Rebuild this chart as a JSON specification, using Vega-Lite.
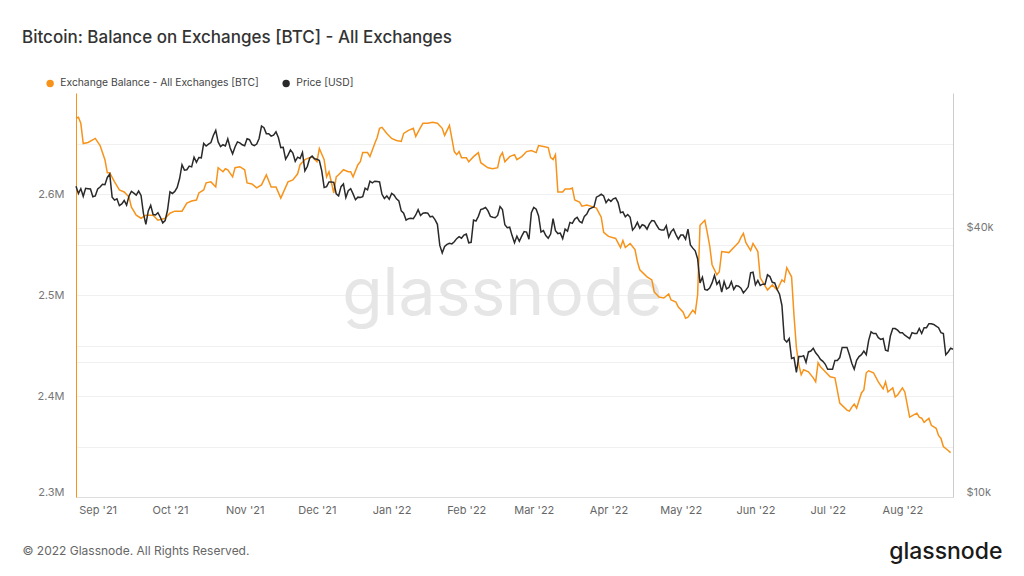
{
  "$schema": "https://vega.github.io/schema/vega-lite/v6.json",
  "width": 877,
  "height": 404,
  "autosize": "none",
  "padding": {"left": 76, "top": 93, "right": 71, "bottom": 79},
  "background": "white",
  "config": {"font": "Inter", "view": {"stroke": null}},
  "title": {"text": "Bitcoin: Balance on Exchanges [BTC] - All Exchanges", "anchor": "start", "frame": "group", "dx": -54, "offset": 31, "font": "Inter", "fontSize": 17, "fontWeight": 500, "color": "#333333"},
  "datasets": {
    "balance": [
      {"d":"2021-08-23","b":2675000},{"d":"2021-08-24","b":2676000},{"d":"2021-08-25","b":2670000},{"d":"2021-08-26","b":2650000},{"d":"2021-08-28","b":2651000},{"d":"2021-08-31","b":2655000},{"d":"2021-09-02","b":2648000},{"d":"2021-09-04","b":2634000},{"d":"2021-09-05","b":2621000},{"d":"2021-09-06","b":2621000},{"d":"2021-09-08","b":2612000},{"d":"2021-09-10","b":2604000},{"d":"2021-09-12","b":2602000},{"d":"2021-09-14","b":2597000},{"d":"2021-09-15","b":2587000},{"d":"2021-09-17","b":2579000},{"d":"2021-09-19","b":2576000},{"d":"2021-09-21","b":2579000},{"d":"2021-09-24","b":2579000},{"d":"2021-09-26","b":2574000},{"d":"2021-09-29","b":2576000},
      {"d":"2021-10-01","b":2581000},{"d":"2021-10-03","b":2583000},{"d":"2021-10-06","b":2583000},{"d":"2021-10-08","b":2591000},{"d":"2021-10-10","b":2593000},{"d":"2021-10-12","b":2594000},{"d":"2021-10-13","b":2601000},{"d":"2021-10-15","b":2604000},{"d":"2021-10-16","b":2611000},{"d":"2021-10-18","b":2612000},{"d":"2021-10-20","b":2607000},{"d":"2021-10-21","b":2626000},{"d":"2021-10-23","b":2622000},{"d":"2021-10-24","b":2625000},{"d":"2021-10-25","b":2624000},{"d":"2021-10-27","b":2617000},{"d":"2021-10-28","b":2626000},{"d":"2021-10-30","b":2627000},
      {"d":"2021-11-01","b":2624000},{"d":"2021-11-02","b":2611000},{"d":"2021-11-04","b":2610000},{"d":"2021-11-06","b":2606000},{"d":"2021-11-08","b":2609000},{"d":"2021-11-10","b":2619000},{"d":"2021-11-12","b":2607000},{"d":"2021-11-14","b":2607000},{"d":"2021-11-16","b":2596000},{"d":"2021-11-19","b":2612000},{"d":"2021-11-21","b":2614000},{"d":"2021-11-23","b":2620000},{"d":"2021-11-24","b":2629000},{"d":"2021-11-26","b":2634000},{"d":"2021-11-29","b":2637000},
      {"d":"2021-12-01","b":2632000},{"d":"2021-12-02","b":2645000},{"d":"2021-12-04","b":2634000},{"d":"2021-12-05","b":2617000},{"d":"2021-12-06","b":2622000},{"d":"2021-12-08","b":2601000},{"d":"2021-12-09","b":2617000},{"d":"2021-12-10","b":2619000},{"d":"2021-12-12","b":2624000},{"d":"2021-12-14","b":2622000},{"d":"2021-12-15","b":2622000},{"d":"2021-12-16","b":2617000},{"d":"2021-12-18","b":2629000},{"d":"2021-12-19","b":2632000},{"d":"2021-12-20","b":2641000},{"d":"2021-12-22","b":2641000},{"d":"2021-12-23","b":2637000},{"d":"2021-12-25","b":2650000},{"d":"2021-12-26","b":2656000},{"d":"2021-12-27","b":2665000},{"d":"2021-12-28","b":2666000},{"d":"2021-12-30","b":2660000},
      {"d":"2022-01-01","b":2655000},{"d":"2022-01-03","b":2653000},{"d":"2022-01-05","b":2652000},{"d":"2022-01-06","b":2660000},{"d":"2022-01-08","b":2663000},{"d":"2022-01-10","b":2665000},{"d":"2022-01-11","b":2657000},{"d":"2022-01-13","b":2666000},{"d":"2022-01-14","b":2670000},{"d":"2022-01-16","b":2670000},{"d":"2022-01-18","b":2671000},{"d":"2022-01-20","b":2670000},{"d":"2022-01-22","b":2665000},{"d":"2022-01-23","b":2658000},{"d":"2022-01-25","b":2668000},{"d":"2022-01-26","b":2655000},{"d":"2022-01-27","b":2642000},{"d":"2022-01-28","b":2639000},{"d":"2022-01-29","b":2642000},{"d":"2022-01-30","b":2636000},
      {"d":"2022-02-01","b":2636000},{"d":"2022-02-02","b":2632000},{"d":"2022-02-04","b":2637000},{"d":"2022-02-06","b":2641000},{"d":"2022-02-07","b":2631000},{"d":"2022-02-10","b":2626000},{"d":"2022-02-12","b":2625000},{"d":"2022-02-14","b":2626000},{"d":"2022-02-15","b":2637000},{"d":"2022-02-16","b":2641000},{"d":"2022-02-17","b":2632000},{"d":"2022-02-19","b":2637000},{"d":"2022-02-21","b":2639000},{"d":"2022-02-22","b":2634000},{"d":"2022-02-24","b":2637000},{"d":"2022-02-26","b":2642000},{"d":"2022-02-28","b":2643000},
      {"d":"2022-03-02","b":2641000},{"d":"2022-03-03","b":2648000},{"d":"2022-03-05","b":2647000},{"d":"2022-03-07","b":2646000},{"d":"2022-03-08","b":2636000},{"d":"2022-03-09","b":2634000},{"d":"2022-03-10","b":2639000},{"d":"2022-03-11","b":2602000},{"d":"2022-03-13","b":2602000},{"d":"2022-03-14","b":2605000},{"d":"2022-03-16","b":2605000},{"d":"2022-03-17","b":2606000},{"d":"2022-03-18","b":2594000},{"d":"2022-03-20","b":2592000},{"d":"2022-03-21","b":2588000},{"d":"2022-03-23","b":2589000},{"d":"2022-03-26","b":2587000},{"d":"2022-03-27","b":2586000},{"d":"2022-03-29","b":2577000},{"d":"2022-03-30","b":2562000},
      {"d":"2022-04-01","b":2558000},{"d":"2022-04-04","b":2556000},{"d":"2022-04-06","b":2547000},{"d":"2022-04-07","b":2554000},{"d":"2022-04-08","b":2547000},{"d":"2022-04-10","b":2551000},{"d":"2022-04-12","b":2545000},{"d":"2022-04-13","b":2533000},{"d":"2022-04-14","b":2525000},{"d":"2022-04-17","b":2518000},{"d":"2022-04-19","b":2515000},{"d":"2022-04-20","b":2503000},{"d":"2022-04-22","b":2498000},{"d":"2022-04-24","b":2497000},{"d":"2022-04-26","b":2501000},{"d":"2022-04-27","b":2495000},{"d":"2022-04-29","b":2493000},{"d":"2022-04-30","b":2488000},
      {"d":"2022-05-02","b":2483000},{"d":"2022-05-03","b":2477000},{"d":"2022-05-04","b":2478000},{"d":"2022-05-06","b":2485000},{"d":"2022-05-07","b":2482000},{"d":"2022-05-08","b":2500000},{"d":"2022-05-09","b":2569000},{"d":"2022-05-11","b":2574000},{"d":"2022-05-12","b":2562000},{"d":"2022-05-13","b":2549000},{"d":"2022-05-14","b":2530000},{"d":"2022-05-16","b":2520000},{"d":"2022-05-17","b":2523000},{"d":"2022-05-18","b":2543000},{"d":"2022-05-21","b":2542000},{"d":"2022-05-23","b":2547000},{"d":"2022-05-25","b":2552000},{"d":"2022-05-26","b":2557000},{"d":"2022-05-27","b":2561000},{"d":"2022-05-28","b":2552000},{"d":"2022-05-30","b":2544000},{"d":"2022-05-31","b":2551000},
      {"d":"2022-06-02","b":2543000},{"d":"2022-06-03","b":2517000},{"d":"2022-06-04","b":2513000},{"d":"2022-06-06","b":2505000},{"d":"2022-06-08","b":2510000},{"d":"2022-06-10","b":2505000},{"d":"2022-06-12","b":2515000},{"d":"2022-06-13","b":2513000},{"d":"2022-06-14","b":2527000},{"d":"2022-06-16","b":2518000},{"d":"2022-06-17","b":2480000},{"d":"2022-06-18","b":2448000},{"d":"2022-06-19","b":2431000},{"d":"2022-06-20","b":2421000},{"d":"2022-06-21","b":2426000},{"d":"2022-06-23","b":2424000},{"d":"2022-06-25","b":2418000},{"d":"2022-06-26","b":2414000},{"d":"2022-06-27","b":2433000},{"d":"2022-06-28","b":2429000},{"d":"2022-06-30","b":2424000},
      {"d":"2022-07-02","b":2419000},{"d":"2022-07-04","b":2418000},{"d":"2022-07-06","b":2393000},{"d":"2022-07-09","b":2386000},{"d":"2022-07-10","b":2385000},{"d":"2022-07-11","b":2389000},{"d":"2022-07-12","b":2392000},{"d":"2022-07-13","b":2388000},{"d":"2022-07-15","b":2403000},{"d":"2022-07-16","b":2406000},{"d":"2022-07-17","b":2423000},{"d":"2022-07-18","b":2425000},{"d":"2022-07-20","b":2423000},{"d":"2022-07-22","b":2414000},{"d":"2022-07-24","b":2407000},{"d":"2022-07-25","b":2414000},{"d":"2022-07-26","b":2404000},{"d":"2022-07-28","b":2408000},{"d":"2022-07-29","b":2399000},{"d":"2022-07-30","b":2401000},
      {"d":"2022-08-01","b":2408000},{"d":"2022-08-02","b":2404000},{"d":"2022-08-04","b":2379000},{"d":"2022-08-07","b":2383000},{"d":"2022-08-08","b":2379000},{"d":"2022-08-09","b":2378000},{"d":"2022-08-10","b":2374000},{"d":"2022-08-12","b":2378000},{"d":"2022-08-13","b":2371000},{"d":"2022-08-15","b":2368000},{"d":"2022-08-16","b":2361000},{"d":"2022-08-17","b":2358000},{"d":"2022-08-18","b":2350000},{"d":"2022-08-20","b":2346000},{"d":"2022-08-21","b":2344000}
    ],
    "price": [
      {"d":"2021-08-23","p":49500},{"d":"2021-08-24","p":47700},{"d":"2021-08-25","p":48900},{"d":"2021-08-26","p":47000},{"d":"2021-08-27","p":49000},{"d":"2021-08-28","p":48900},{"d":"2021-08-29","p":48800},{"d":"2021-08-30","p":46900},{"d":"2021-08-31","p":47100},
      {"d":"2021-09-01","p":48800},{"d":"2021-09-02","p":49300},{"d":"2021-09-03","p":50000},{"d":"2021-09-04","p":49900},{"d":"2021-09-05","p":51800},{"d":"2021-09-06","p":52700},{"d":"2021-09-07","p":46800},{"d":"2021-09-08","p":46100},{"d":"2021-09-09","p":46400},{"d":"2021-09-10","p":44800},{"d":"2021-09-11","p":45200},{"d":"2021-09-12","p":46000},{"d":"2021-09-13","p":44900},{"d":"2021-09-14","p":47100},{"d":"2021-09-15","p":48200},{"d":"2021-09-16","p":47800},{"d":"2021-09-17","p":47300},{"d":"2021-09-18","p":48300},{"d":"2021-09-19","p":47200},{"d":"2021-09-20","p":43000},{"d":"2021-09-21","p":40700},{"d":"2021-09-22","p":43600},{"d":"2021-09-23","p":44900},{"d":"2021-09-24","p":42800},{"d":"2021-09-25","p":42700},{"d":"2021-09-26","p":43200},{"d":"2021-09-27","p":42200},{"d":"2021-09-28","p":41000},{"d":"2021-09-29","p":41500},{"d":"2021-09-30","p":43800},
      {"d":"2021-10-01","p":48100},{"d":"2021-10-02","p":47700},{"d":"2021-10-03","p":48200},{"d":"2021-10-04","p":49200},{"d":"2021-10-05","p":51500},{"d":"2021-10-06","p":55300},{"d":"2021-10-07","p":53800},{"d":"2021-10-08","p":53900},{"d":"2021-10-09","p":54900},{"d":"2021-10-10","p":54700},{"d":"2021-10-11","p":57500},{"d":"2021-10-12","p":56000},{"d":"2021-10-13","p":57400},{"d":"2021-10-14","p":57300},{"d":"2021-10-15","p":61700},{"d":"2021-10-16","p":60900},{"d":"2021-10-17","p":61500},{"d":"2021-10-18","p":62000},{"d":"2021-10-19","p":64300},{"d":"2021-10-20","p":66000},{"d":"2021-10-21","p":62200},{"d":"2021-10-22","p":60700},{"d":"2021-10-23","p":61300},{"d":"2021-10-24","p":60900},{"d":"2021-10-25","p":63200},{"d":"2021-10-26","p":60300},{"d":"2021-10-27","p":58500},{"d":"2021-10-28","p":60600},{"d":"2021-10-29","p":62200},{"d":"2021-10-30","p":61900},{"d":"2021-10-31","p":61300},
      {"d":"2021-11-01","p":61000},{"d":"2021-11-02","p":63200},{"d":"2021-11-03","p":62900},{"d":"2021-11-04","p":61400},{"d":"2021-11-05","p":61000},{"d":"2021-11-06","p":61500},{"d":"2021-11-07","p":63300},{"d":"2021-11-08","p":67500},{"d":"2021-11-09","p":66900},{"d":"2021-11-10","p":64900},{"d":"2021-11-11","p":64900},{"d":"2021-11-12","p":64100},{"d":"2021-11-13","p":64400},{"d":"2021-11-14","p":65500},{"d":"2021-11-15","p":63600},{"d":"2021-11-16","p":60400},{"d":"2021-11-17","p":60500},{"d":"2021-11-18","p":56900},{"d":"2021-11-19","p":58100},{"d":"2021-11-20","p":59700},{"d":"2021-11-21","p":58700},{"d":"2021-11-22","p":56300},{"d":"2021-11-23","p":57500},{"d":"2021-11-24","p":57100},{"d":"2021-11-25","p":58900},{"d":"2021-11-26","p":53600},{"d":"2021-11-27","p":54800},{"d":"2021-11-28","p":57200},{"d":"2021-11-29","p":57800},{"d":"2021-11-30","p":57000},
      {"d":"2021-12-01","p":56900},{"d":"2021-12-02","p":56500},{"d":"2021-12-03","p":53600},{"d":"2021-12-04","p":49200},{"d":"2021-12-05","p":49400},{"d":"2021-12-06","p":50600},{"d":"2021-12-07","p":50600},{"d":"2021-12-08","p":50500},{"d":"2021-12-09","p":47600},{"d":"2021-12-10","p":47100},{"d":"2021-12-11","p":49400},{"d":"2021-12-12","p":50100},{"d":"2021-12-13","p":46700},{"d":"2021-12-14","p":48400},{"d":"2021-12-15","p":48900},{"d":"2021-12-16","p":47600},{"d":"2021-12-17","p":46200},{"d":"2021-12-18","p":46800},{"d":"2021-12-19","p":46700},{"d":"2021-12-20","p":46900},{"d":"2021-12-21","p":49000},{"d":"2021-12-22","p":48600},{"d":"2021-12-23","p":50800},{"d":"2021-12-24","p":50400},{"d":"2021-12-25","p":50800},{"d":"2021-12-26","p":50700},{"d":"2021-12-27","p":50600},{"d":"2021-12-28","p":47500},{"d":"2021-12-29","p":46500},{"d":"2021-12-30","p":47100},{"d":"2021-12-31","p":46300},
      {"d":"2022-01-01","p":47700},{"d":"2022-01-02","p":47300},{"d":"2022-01-03","p":46400},{"d":"2022-01-04","p":45900},{"d":"2022-01-05","p":43600},{"d":"2022-01-06","p":43100},{"d":"2022-01-07","p":41600},{"d":"2022-01-08","p":41900},{"d":"2022-01-09","p":42000},{"d":"2022-01-10","p":41900},{"d":"2022-01-11","p":42700},{"d":"2022-01-12","p":43900},{"d":"2022-01-13","p":42600},{"d":"2022-01-14","p":43100},{"d":"2022-01-15","p":43200},{"d":"2022-01-16","p":43100},{"d":"2022-01-17","p":42300},{"d":"2022-01-18","p":42400},{"d":"2022-01-19","p":41700},{"d":"2022-01-20","p":40700},{"d":"2022-01-21","p":36500},{"d":"2022-01-22","p":35100},{"d":"2022-01-23","p":36300},{"d":"2022-01-24","p":36700},{"d":"2022-01-25","p":36900},{"d":"2022-01-26","p":36800},{"d":"2022-01-27","p":37200},{"d":"2022-01-28","p":37800},{"d":"2022-01-29","p":38200},{"d":"2022-01-30","p":37900},{"d":"2022-01-31","p":38500},
      {"d":"2022-02-01","p":38700},{"d":"2022-02-02","p":37000},{"d":"2022-02-03","p":37100},{"d":"2022-02-04","p":41600},{"d":"2022-02-05","p":41400},{"d":"2022-02-06","p":42400},{"d":"2022-02-07","p":43900},{"d":"2022-02-08","p":44100},{"d":"2022-02-09","p":44400},{"d":"2022-02-10","p":43600},{"d":"2022-02-11","p":42400},{"d":"2022-02-12","p":42200},{"d":"2022-02-13","p":42100},{"d":"2022-02-14","p":42600},{"d":"2022-02-15","p":44600},{"d":"2022-02-16","p":43900},{"d":"2022-02-17","p":40600},{"d":"2022-02-18","p":40000},{"d":"2022-02-19","p":40100},{"d":"2022-02-20","p":38400},{"d":"2022-02-21","p":37000},{"d":"2022-02-22","p":38300},{"d":"2022-02-23","p":37300},{"d":"2022-02-24","p":38300},{"d":"2022-02-25","p":39200},{"d":"2022-02-26","p":39100},{"d":"2022-02-27","p":37700},{"d":"2022-02-28","p":43200},
      {"d":"2022-03-01","p":44400},{"d":"2022-03-02","p":44000},{"d":"2022-03-03","p":42500},{"d":"2022-03-04","p":39100},{"d":"2022-03-05","p":39400},{"d":"2022-03-06","p":38400},{"d":"2022-03-07","p":37900},{"d":"2022-03-08","p":38700},{"d":"2022-03-09","p":41900},{"d":"2022-03-10","p":39400},{"d":"2022-03-11","p":38800},{"d":"2022-03-12","p":38900},{"d":"2022-03-13","p":37800},{"d":"2022-03-14","p":39700},{"d":"2022-03-15","p":39300},{"d":"2022-03-16","p":41100},{"d":"2022-03-17","p":40900},{"d":"2022-03-18","p":41800},{"d":"2022-03-19","p":42200},{"d":"2022-03-20","p":41300},{"d":"2022-03-21","p":41000},{"d":"2022-03-22","p":42400},{"d":"2022-03-23","p":42900},{"d":"2022-03-24","p":44000},{"d":"2022-03-25","p":44300},{"d":"2022-03-26","p":44500},{"d":"2022-03-27","p":46800},{"d":"2022-03-28","p":47100},{"d":"2022-03-29","p":47500},{"d":"2022-03-30","p":47100},{"d":"2022-03-31","p":45500},
      {"d":"2022-04-01","p":46300},{"d":"2022-04-02","p":45800},{"d":"2022-04-03","p":46400},{"d":"2022-04-04","p":46600},{"d":"2022-04-05","p":45500},{"d":"2022-04-06","p":43200},{"d":"2022-04-07","p":43400},{"d":"2022-04-08","p":42300},{"d":"2022-04-09","p":42800},{"d":"2022-04-10","p":42200},{"d":"2022-04-11","p":39500},{"d":"2022-04-12","p":40100},{"d":"2022-04-13","p":41100},{"d":"2022-04-14","p":39900},{"d":"2022-04-15","p":40600},{"d":"2022-04-16","p":40400},{"d":"2022-04-17","p":39700},{"d":"2022-04-18","p":40800},{"d":"2022-04-19","p":41500},{"d":"2022-04-20","p":41400},{"d":"2022-04-21","p":40500},{"d":"2022-04-22","p":39700},{"d":"2022-04-23","p":39500},{"d":"2022-04-24","p":39500},{"d":"2022-04-25","p":40400},{"d":"2022-04-26","p":38100},{"d":"2022-04-27","p":39200},{"d":"2022-04-28","p":39700},{"d":"2022-04-29","p":38600},{"d":"2022-04-30","p":37700},
      {"d":"2022-05-01","p":38500},{"d":"2022-05-02","p":38500},{"d":"2022-05-03","p":37700},{"d":"2022-05-04","p":39700},{"d":"2022-05-05","p":36600},{"d":"2022-05-06","p":36000},{"d":"2022-05-07","p":35500},{"d":"2022-05-08","p":34100},{"d":"2022-05-09","p":30100},{"d":"2022-05-10","p":31000},{"d":"2022-05-11","p":29100},{"d":"2022-05-12","p":29000},{"d":"2022-05-13","p":29300},{"d":"2022-05-14","p":30100},{"d":"2022-05-15","p":31300},{"d":"2022-05-16","p":29900},{"d":"2022-05-17","p":30400},{"d":"2022-05-18","p":28700},{"d":"2022-05-19","p":30300},{"d":"2022-05-20","p":29200},{"d":"2022-05-21","p":29400},{"d":"2022-05-22","p":30300},{"d":"2022-05-23","p":29100},{"d":"2022-05-24","p":29700},{"d":"2022-05-25","p":29600},{"d":"2022-05-26","p":29300},{"d":"2022-05-27","p":28600},{"d":"2022-05-28","p":29000},{"d":"2022-05-29","p":29500},{"d":"2022-05-30","p":31700},{"d":"2022-05-31","p":31800},
      {"d":"2022-06-01","p":29800},{"d":"2022-06-02","p":30500},{"d":"2022-06-03","p":29700},{"d":"2022-06-04","p":29900},{"d":"2022-06-05","p":29900},{"d":"2022-06-06","p":31400},{"d":"2022-06-07","p":31100},{"d":"2022-06-08","p":30200},{"d":"2022-06-09","p":30100},{"d":"2022-06-10","p":29100},{"d":"2022-06-11","p":28400},{"d":"2022-06-12","p":26800},{"d":"2022-06-13","p":22500},{"d":"2022-06-14","p":22200},{"d":"2022-06-15","p":22600},{"d":"2022-06-16","p":20400},{"d":"2022-06-17","p":20500},{"d":"2022-06-18","p":19000},{"d":"2022-06-19","p":20600},{"d":"2022-06-20","p":20600},{"d":"2022-06-21","p":20700},{"d":"2022-06-22","p":20000},{"d":"2022-06-23","p":21100},{"d":"2022-06-24","p":21200},{"d":"2022-06-25","p":21500},{"d":"2022-06-26","p":21000},{"d":"2022-06-27","p":20700},{"d":"2022-06-28","p":20300},{"d":"2022-06-29","p":20100},{"d":"2022-06-30","p":19800},
      {"d":"2022-07-01","p":19300},{"d":"2022-07-02","p":19300},{"d":"2022-07-03","p":19300},{"d":"2022-07-04","p":20200},{"d":"2022-07-05","p":20200},{"d":"2022-07-06","p":20500},{"d":"2022-07-07","p":21600},{"d":"2022-07-08","p":21600},{"d":"2022-07-09","p":21600},{"d":"2022-07-10","p":20800},{"d":"2022-07-11","p":19900},{"d":"2022-07-12","p":19300},{"d":"2022-07-13","p":20200},{"d":"2022-07-14","p":20600},{"d":"2022-07-15","p":20800},{"d":"2022-07-16","p":21200},{"d":"2022-07-17","p":20800},{"d":"2022-07-18","p":22400},{"d":"2022-07-19","p":23400},{"d":"2022-07-20","p":23200},{"d":"2022-07-21","p":23200},{"d":"2022-07-22","p":22700},{"d":"2022-07-23","p":22500},{"d":"2022-07-24","p":22600},{"d":"2022-07-25","p":21300},{"d":"2022-07-26","p":21200},{"d":"2022-07-27","p":22900},{"d":"2022-07-28","p":23800},{"d":"2022-07-29","p":23800},{"d":"2022-07-30","p":23600},{"d":"2022-07-31","p":23300},
      {"d":"2022-08-01","p":23300},{"d":"2022-08-02","p":23000},{"d":"2022-08-03","p":22800},{"d":"2022-08-04","p":22600},{"d":"2022-08-05","p":23300},{"d":"2022-08-06","p":23200},{"d":"2022-08-07","p":23200},{"d":"2022-08-08","p":23800},{"d":"2022-08-09","p":23200},{"d":"2022-08-10","p":23900},{"d":"2022-08-11","p":23900},{"d":"2022-08-12","p":24400},{"d":"2022-08-13","p":24400},{"d":"2022-08-14","p":24300},{"d":"2022-08-15","p":24100},{"d":"2022-08-16","p":23900},{"d":"2022-08-17","p":23300},{"d":"2022-08-18","p":23200},{"d":"2022-08-19","p":20800},{"d":"2022-08-20","p":21100},{"d":"2022-08-21","p":21500},{"d":"2022-08-22","p":21400}
    ],
    "mark": [{"d":"2022-02-16","b":2500000,"t":"glassnode"}]
  },
  "encoding": {
    "x": {
      "field": "d", "type": "temporal",
      "scale": {"domain": [{"year": 2021, "month": 8, "date": 23}, {"year": 2022, "month": 8, "date": 22}]},
      "axis": {
        "format": "%b '%y", "tickCount": {"interval": "month", "step": 1},
        "labelFont": "Inter", "labelFontSize": 11, "labelColor": "#666666", "labelPadding": 7,
        "ticks": false, "grid": false, "domainColor": "#dddddd",
        "title": "© 2022 Glassnode. All Rights Reserved.", "titleAnchor": "start", "titleAlign": "left",
        "titleX": -54, "titleY": 57, "titleBaseline": "alphabetic", "titleFont": "Inter", "titleFontSize": 12,
        "titleFontWeight": "normal", "titleColor": "#666666"
      }
    }
  },
  "layer": [
    {
      "layer": [
        {
          "data": {"name": "mark"},
          "mark": {"type": "text", "font": "Inter", "fontSize": 66, "fontWeight": 400, "color": "#e6e6e6", "align": "center", "baseline": "middle"},
          "encoding": {
            "y": {"field": "b", "type": "quantitative"},
            "text": {"field": "t"}
          }
        },
        {
          "data": {"name": "balance"},
          "mark": {"type": "line", "strokeWidth": 1.5, "interpolate": "linear"},
          "encoding": {
            "y": {
              "field": "b", "type": "quantitative",
              "scale": {"domain": [2300000, 2700000], "nice": false, "zero": false},
              "axis": {
                "orient": "left", "title": null,
                "values": [2300000, 2350000, 2400000, 2450000, 2500000, 2550000, 2600000, 2650000],
                "labelExpr": "datum.value % 100000 === 0 ? format(datum.value / 1000000, '.1f') + 'M' : ''",
                "labelFont": "Inter", "labelFontSize": 11, "labelColor": "#777777", "labelPadding": 12, "labelFlush": true,
                "ticks": false, "domainColor": "#F7931A", "grid": true, "gridColor": "#f0f0f0"
              }
            },
            "color": {
              "datum": "Exchange Balance - All Exchanges [BTC]",
              "scale": {"domain": ["Exchange Balance - All Exchanges [BTC]", "Price [USD]"], "range": ["#F7931A", "#2a2a2a"]},
              "legend": {
                "orient": "none", "legendX": -31, "legendY": -15, "direction": "horizontal", "title": null,
                "symbolType": "circle", "symbolSize": 55, "symbolStrokeWidth": 0,
                "labelFont": "Inter", "labelFontSize": 10.3, "labelColor": "#444444", "labelOffset": 5, "labelLimit": 0,
                "columnPadding": 22, "padding": 0,
                "encode": {"symbols": {"update": {"fill": {"scale": "color", "field": "value"}, "stroke": {"value": "transparent"}}}}
              }
            }
          }
        }
      ]
    },
    {
      "data": {"name": "price"},
      "mark": {"type": "line", "strokeWidth": 1.5},
      "encoding": {
        "y": {
          "field": "p", "type": "quantitative",
          "scale": {"type": "log", "domain": [10000, 80000], "nice": false},
          "axis": {
            "orient": "right", "values": [10000, 20000, 40000],
            "labelExpr": "datum.value === 20000 ? '' : '$' + format(datum.value / 1000, 'd') + 'k'",
            "labelFont": "Inter", "labelFontSize": 11, "labelColor": "#777777", "labelPadding": 13, "labelFlush": true,
            "ticks": false, "domainColor": "#cccccc", "grid": true, "gridColor": "#f0f0f0",
            "title": "glassnode", "titleAngle": 0, "titleAlign": "right", "titleBaseline": "alphabetic",
            "titleX": 49, "titleY": 465, "titleFont": "Inter", "titleFontSize": 23, "titleFontWeight": 500, "titleColor": "#1a1a1a"
          }
        },
        "color": {"datum": "Price [USD]"}
      }
    }
  ],
  "resolve": {"scale": {"y": "independent"}}
}
